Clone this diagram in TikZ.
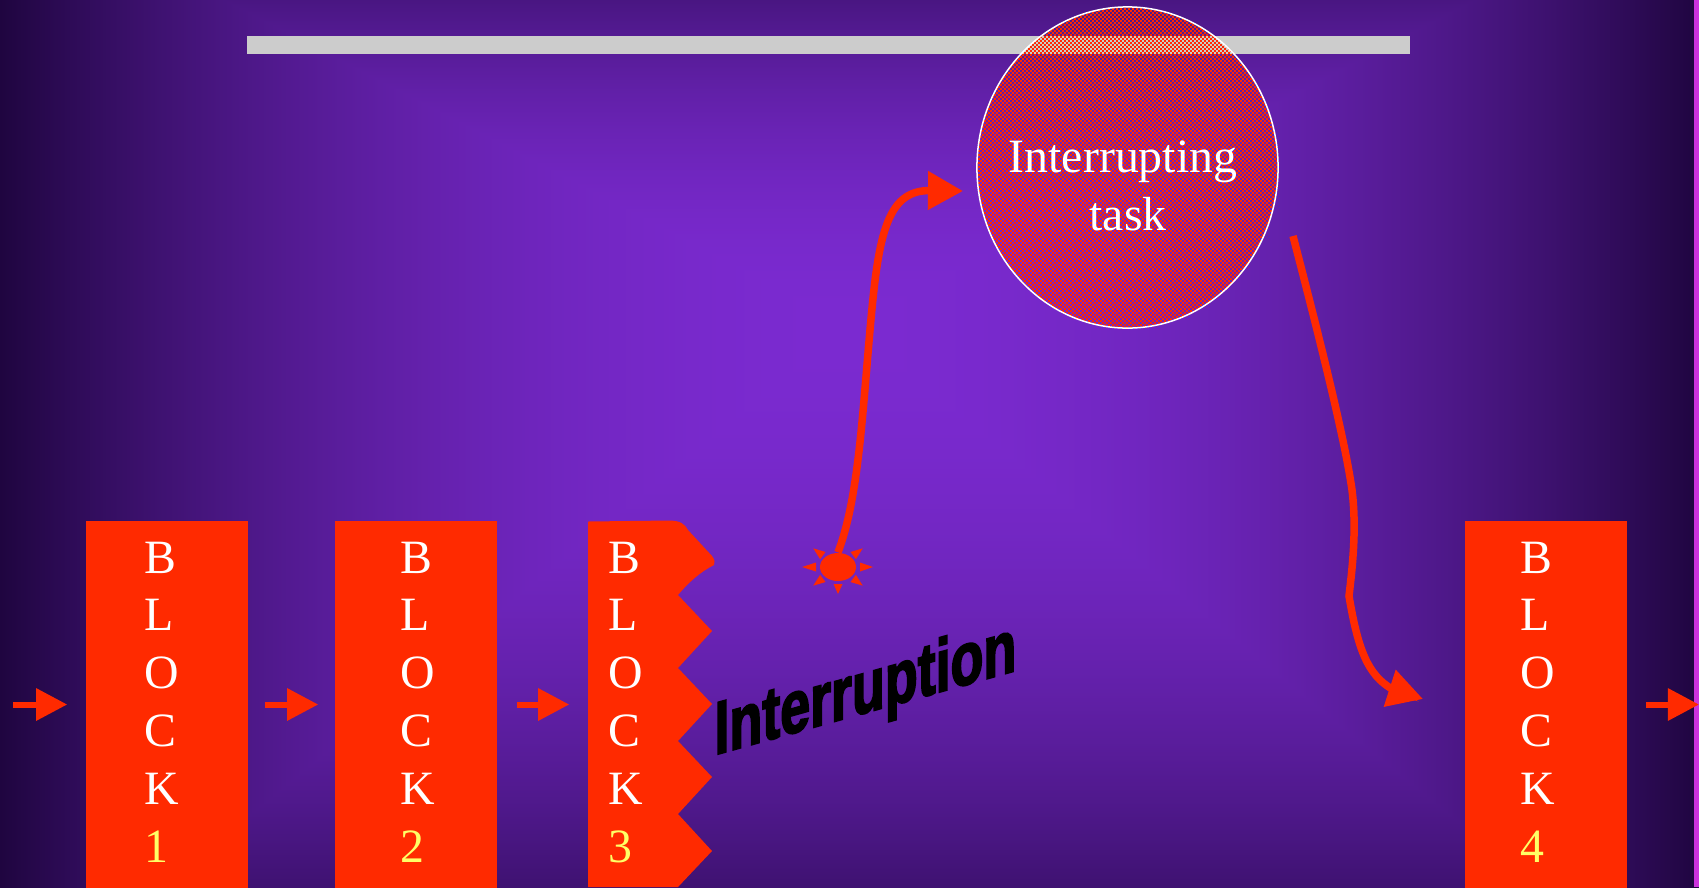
\documentclass[tikz,border=0pt]{standalone}
\usepackage{fontspec}
\setmainfont{Liberation Serif}
\newfontfamily\wordartfont[FakeBold=3]{Liberation Sans Bold}
\usetikzlibrary{arrows.meta,shapes.geometric}
\definecolor{blockred}{HTML}{FF2A00}
\definecolor{digit}{HTML}{FFFF66}
\definecolor{edge}{HTML}{CC33DD}
\pgfdeclarefunctionalshading{slideback}{\pgfpoint{-50bp}{-50bp}}{\pgfpoint{50bp}{50bp}}{}{
  2 mul exch 2 mul exch
  13.36 sub dup 0 gt {49.8 div}{neg 78.2 div} ifelse
  exch abs 50 div
  2 copy lt {exch} if pop
  2 exp
  dup dup
  -0.36 mul 0.482 add
  3 1 roll
  -0.145 mul 0.165 add
  exch
  -0.566 mul 0.816 add
}
\tikzset{
  blockbox/.style={
    shape = rectangle,
    inner sep = 0,
    minimum width = 1.62cm,
    minimum height = 3.66cm,
    fill = blockred
  },
  blocktext/.style={
    anchor = north west,
    inner sep = 0,
    align = left,
    text = white,
    font = \fontsize{13.6}{16.45}\selectfont
  },
  flowarrow/.style={
    draw = blockred,
    line width = 0.06cm,
    -{Triangle[length=0.31cm,width=0.31cm]}
  },
  curvearrow/.style={
    draw = blockred,
    line width = 0.075cm,
    -{Triangle[length=0.35cm,width=0.37cm]}
  },
  dither/.style={
    draw = blockred,
    line width = 0.02cm,
    dash pattern = on 0.02cm off 0.02cm
  },
}
\begin{document}
\begin{tikzpicture}[x=0.01cm,y=-0.01cm]
		  \useasboundingbox (0,0) rectangle (1699,887);
		  \shade[shading=slideback] (0,0) rectangle (1699,887);
		  \fill[edge] (1694,0) rectangle (1699,887);
		  \fill[black!20] (247,36) rectangle (1410,54);
		  \begin{scope}
		    \clip (1127.5,167.5) ellipse (1.505cm and 1.605cm);
		    \foreach \y in {5,9,...,329}{
		      \draw[dither] (976,\y) -- (1280,\y);
		      \draw[dither] (978,\y+2) -- (1280,\y+2);
		    }
		  \end{scope}
		  \node[shape=ellipse,inner sep=0,minimum width=3.01cm,minimum height=3.21cm,draw=white,line width=0.015cm] (task) at (1127.5,167.5) {};
		  \node[blocktext,anchor=center,align=center] (tasklabel) at (1123,186) {Interrupting\\\hspace{0.1cm}task};
		  \foreach \n/\xa/\xb in {1/167/144,2/416/400,4/1546/1520}{
		    \node[blockbox] (block\n) at (\xa,704.5) {};
		    \node[blocktext] (text\n) at (\xb,541) {B\\L\\O\\C\\K\\\textcolor{digit}{\n}};
		  }
		  \node[blockbox,minimum width=0.9cm,fill=none] (block3) at (633,704.5) {};
		  \fill[blockred] (588,521.5) -- (670,520.5) .. controls (680,521) and (684,523) .. (688,530) -- (712,556) .. controls (715,560) and (715,563) .. (714,565) .. controls (700,572) and (688,583) .. (678,595) -- (712,631) -- (678,668) -- (712,704) -- (678,741) -- (712,777) -- (678,814) -- (712,851) -- (678,887) -- (588,887) -- cycle;
		  \node[blocktext] (text3) at (608,541) {B\\L\\O\\C\\K\\\textcolor{digit}{3}};
		  % arrows between the blocks
		  \coordinate (flowin) at (13,704.5);
		  \coordinate (flowout) at (1699,704.5);
		  \draw[flowarrow,shorten >=0.18cm] (flowin) -- (block1);
		  \draw[flowarrow,shorten <=0.16cm,shorten >=0.16cm] (block1) -- (block2);
		  \draw[flowarrow,shorten <=0.19cm,shorten >=0.18cm] (block2) -- (block3);
		  \draw[flowarrow,shorten <=0.18cm] (block4) -- (flowout);
		  % the spark
		  \node[shape=ellipse,inner sep=0,minimum width=0.36cm,minimum height=0.28cm,fill=blockred] (spark) at (838,567) {};
		  \foreach \a/\b/\t in {0/22/35,180/22/36,-90/17/27,37/19/31,143/19/31,-37/19/31,-143/19/31}{
		    \fill[blockred,shift={(spark.center)},rotate=\a] (\b,-4.5) -- (\t,0) -- (\b,4.5) -- cycle;
		  }
		  \coordinate (taskin) at (963,191);
		  \coordinate (taskout) at (1293,236);
		  \coordinate (resume) at (1423,699);
		  \draw[curvearrow] (spark.north) .. controls (858,500) and (862,420) .. (870,330) .. controls (878,240) and (885,190) .. (taskin);
		  \draw[curvearrow] (taskout) .. controls (1320,340) and (1345,440) .. (1352,490) .. controls (1357,530) and (1352,570) .. (1349,596) .. controls (1358,650) and (1368,675) .. (1392,689) -- (resume);
		  \node[anchor=base west,inner sep=0,cm={.70,.196,0,.97,(0,0)},font=\wordartfont\fontsize{21.85}{24}\selectfont] (interruption) at (714,755) {Interruption};
		\end{tikzpicture}
\end{document}
